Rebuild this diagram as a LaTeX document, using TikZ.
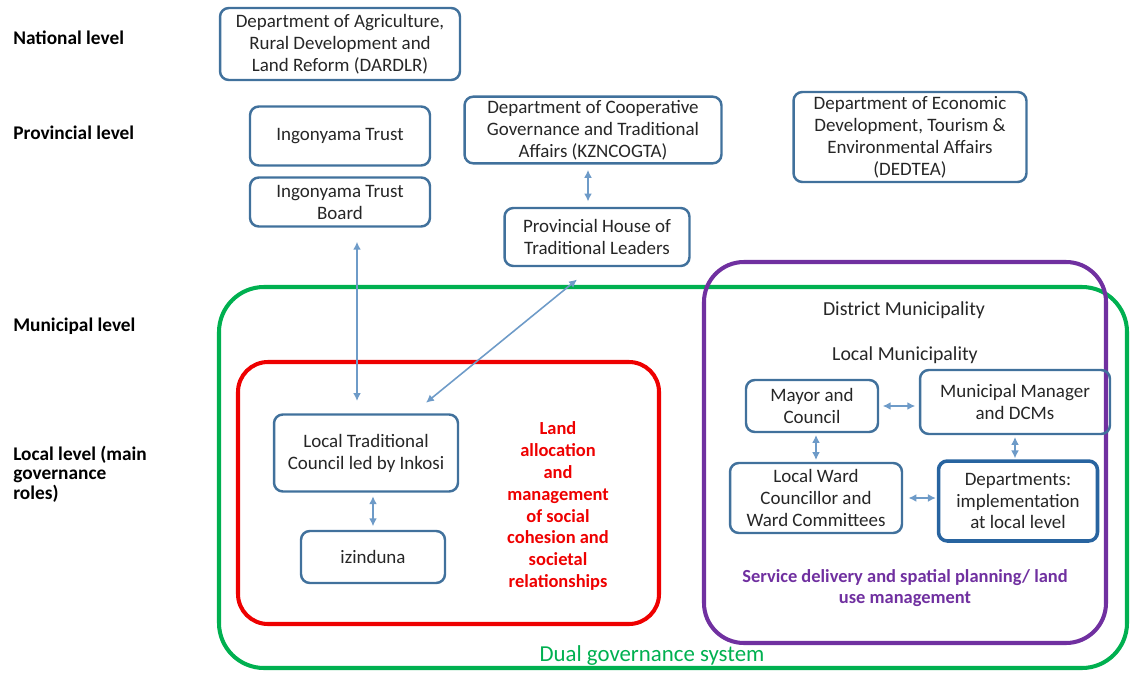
\documentclass[tikz,border=0pt]{standalone}
\usepackage{fontspec}
\setmainfont{Carlito}
\usepackage{tikz}
\usetikzlibrary{arrows.meta}

\definecolor{boxblue}{RGB}{65,113,156}
\definecolor{deptblue}{RGB}{40,100,160}
\definecolor{arrowblue}{RGB}{110,155,200}
\definecolor{framegreen}{RGB}{0,176,80}
\definecolor{framered}{RGB}{238,0,0}
\definecolor{framepurple}{RGB}{112,48,160}
\definecolor{txtgrey}{RGB}{38,38,38}

\tikzset{
	orgbox/.style={draw=boxblue, line width=1.4pt, rounded corners=5pt, align=center,
		text=txtgrey, inner sep=2pt, font=\fontsize{10.8}{12.5}\selectfont},
	lvl/.style={anchor=west, align=left, inner sep=0pt, font=\fontsize{11}{11}\selectfont\bfseries},
	link/.style={draw=arrowblue, line width=0.9pt, {Latex[length=4.5pt,width=4.5pt]}-{Latex[length=4.5pt,width=4.5pt]}}
}

\begin{document}
\begin{tikzpicture}[x=0.02cm, y=-0.02cm]
	\useasboundingbox (0,0) rectangle (1130,673);

	%% Draw frames
	\draw[framegreen, line width=2.3pt, rounded corners=0.9cm] (219,287) rectangle (1127,668);
	\draw[framepurple, line width=2.3pt, rounded corners=0.8cm] (704,262) rectangle (1106,643);
	\draw[framered, line width=2.3pt, rounded corners=0.6cm] (238,362) rectangle (659,624);

	%% Draw level labels
	\node[lvl] (national) at (13,38)  {National level};
	\node[lvl] (provincial) at (13,133) {Provincial level};
	\node[lvl] (municipal) at (13,326) {Municipal level};
	\node[lvl] (local) at (13,474) {Local level (main\\governance\\roles)};

	%% Draw boxes
	\node[orgbox, minimum width=4.8cm,  minimum height=1.44cm] (dardlr) at (340,44)
		{Department of Agriculture,\\Rural Development and\\Land Reform (DARDLR)};
	\node[orgbox, minimum width=3.6cm,  minimum height=1.18cm] (trust) at (340,136) {Ingonyama Trust};
	\node[orgbox, minimum width=3.6cm,  minimum height=0.98cm] (board) at (340,202) {Ingonyama Trust\\Board};
	\node[orgbox, minimum width=5.14cm, minimum height=1.2cm]  (cogta) at (593,130)
		{Department of Cooperative\\Governance and Traditional\\Affairs (KZNCOGTA)};
	\node[orgbox, minimum width=3.7cm,  minimum height=1.16cm] (house) at (597,237)
		{Provincial House of\\Traditional Leaders};
	\node[orgbox, minimum width=4.66cm, minimum height=1.8cm]  (dedtea) at (910,137)
		{Department of Economic\\Development, Tourism \&\\Environmental Affairs\\(DEDTEA)};
	\node[orgbox, minimum width=3.68cm, minimum height=1.54cm] (council) at (366,453)
		{Local Traditional\\Council led by Inkosi};
	\node[orgbox, minimum width=2.88cm, minimum height=1.04cm] (izinduna) at (373,557) {izinduna};
	\node[orgbox, minimum width=2.64cm, minimum height=1.04cm] (mayor) at (812,406) {Mayor and\\Council};
	\node[orgbox, minimum width=3.8cm,  minimum height=1.28cm] (manager) at (1015,402)
		{Municipal Manager\\and DCMs};
	\node[orgbox, minimum width=3.44cm, minimum height=1.4cm]  (ward) at (816,498)
		{Local Ward\\Councillor and\\Ward Committees};
	\node[orgbox, line width=2pt, draw=deptblue, minimum width=3.18cm, minimum height=1.6cm] (depts) at (1018,501)
		{Departments:\\implementation\\at local level};

	%% Draw frame texts
	\node[text=txtgrey, font=\fontsize{11.3}{14}\selectfont] (district) at (904,310) {District Municipality};
	\node[text=txtgrey, font=\fontsize{11.3}{14}\selectfont] (localmun) at (905,355) {Local Municipality};
	\node[text=framered, align=center, font=\fontsize{10.5}{12.5}\selectfont\bfseries] (landtxt) at (558,506)
		{Land\\allocation\\and\\management\\of social\\cohesion and\\societal\\relationships};
	\node[text=framepurple, align=center, font=\fontsize{10.5}{12.4}\selectfont\bfseries] (servtxt) at (905,588)
		{Service delivery and spatial planning/ land\\use management};
	\node[text=framegreen, font=\fontsize{13}{15}\selectfont] (dualtxt) at (652,656) {Dual governance system};

	%% Draw connectors
	\draw[link] ([xshift=0.34cm,yshift=-8pt]board.south) -- ([xshift=-0.18cm,yshift=7pt]council.north);
	\draw[link] ([xshift=1.2cm,yshift=6pt]council.north) -- ([xshift=-0.4cm,yshift=-7pt]house.south);
	\draw[link] ([xshift=-0.1cm,yshift=-3pt]cogta.south) -- ([xshift=-0.18cm,yshift=3pt]house.north);
	\draw[link] ([yshift=2pt]izinduna.north) -- ([yshift=-2pt]izinduna.north |- council.south);
	\draw[link] ([xshift=2pt]mayor.east) -- ([xshift=-2pt]mayor.east -| manager.west);
	\draw[link] ([xshift=0.08cm,yshift=-1pt]mayor.south) -- ([xshift=0.08cm,yshift=1pt]mayor.south |- ward.north);
	\draw[link] ([yshift=-1pt]manager.south) -- ([yshift=0.5pt]manager.south |- depts.north);
	\draw[link] ([xshift=3pt]ward.east) -- ([xshift=-0.5pt]ward.east -| depts.west);
\end{tikzpicture}
\end{document}
